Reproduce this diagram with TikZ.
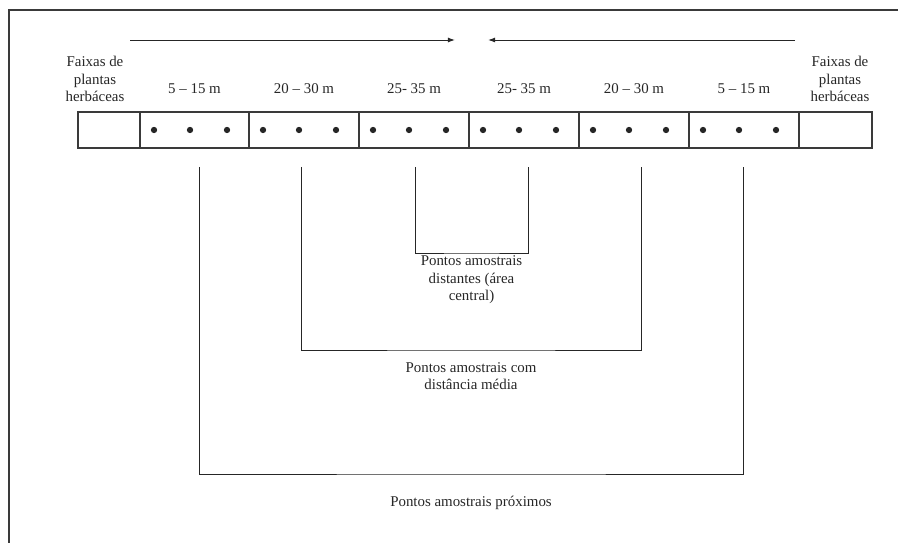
\documentclass[tikz,border=0pt]{standalone}
\usepackage{fontspec}
\setmainfont{Liberation Serif}
\usetikzlibrary{arrows.meta, positioning}
\definecolor{ink}{HTML}{262626}
\definecolor{frame}{HTML}{3A3A3A}

\begin{document}
\begin{tikzpicture}[x=0.025cm, y=-0.025cm, >={Latex[length=5pt, width=3.5pt]},
  cell/.style={draw=frame, line width=0.9pt, minimum height=0.9cm, inner sep=0pt, outer sep=0pt},
  pt/.style={fill=ink, circle, inner sep=0pt, minimum size=4.5pt},
  lbl/.style={font=\fontsize{10.6}{12.2}\selectfont, text=ink, align=center, inner sep=1pt},
  brk/.style={draw=ink, line width=0.7pt}]

\useasboundingbox (0,0) rectangle (898,543);

% Frame
\draw[frame, line width=1pt] (9,543) -- (9,10) -- (898,10);

% =========== Strip of cells ===========
\foreach \n/\l/\r in {0/78/140, 1/140/249, 2/249/359, 3/359/469, 4/469/579, 5/579/689, 6/689/799, 7/799/872}
  \node[cell, minimum width={(\r-\l)*0.025cm}] (c\n) at ({(\l+\r)/2},130) {};

% Sampling points
\foreach \n in {1,...,6}
  \foreach \d in {14,50,87}
    \node[pt] (d\n-\d) at ([xshift={\d*0.025cm}]c\n.west) {};

% Distance labels
\foreach \n/\t in {1/{5 – 15 m}, 2/{20 – 30 m}, 3/{25- 35 m}, 4/{25- 35 m}, 5/{20 – 30 m}, 6/{5 – 15 m}}
  \node[lbl, above=12.8pt of c\n, anchor=base] (r\n) {\t};

% Herbaceous strips
\node[lbl] (fl) at (95,79) {Faixas de\\plantas\\herbáceas};
\node[lbl] (fr) at (840,79) {Faixas de\\plantas\\herbáceas};

% Direction arrows
\coordinate (a1) at (130,40);
\coordinate (a2) at (455,40);
\coordinate (b1) at (795,40);
\coordinate (b2) at (488,40);
\draw[->, ink, line width=0.7pt] (a1) -- (a2);
\draw[->, ink, line width=0.7pt] (b1) -- (b2);

% =========== Brackets ===========
% distant
\coordinate (i1) at (415,167);
\coordinate (i2) at (528,167);
\coordinate (ib) at (471.5,253);
\draw[brk] (i1) |- (ib) -| (i2);
\node[lbl, below=1pt of ib] (il) {Pontos amostrais\\distantes (área\\central)};

% medium
\coordinate (m1) at (301,167);
\coordinate (m2) at (641,167);
\coordinate (mb) at (471,350);
\draw[brk] (m1) |- (mb) -| (m2);
\node[lbl, below=7.5pt of mb] (ml) {Pontos amostrais com\\distância média};

% near
\coordinate (o1) at (199,167);
\coordinate (o2) at (743,167);
\coordinate (ob) at (471,474);
\draw[brk] (o1) |- (ob) -| (o2);
\node[lbl, below=14.5pt of ob] (ol) {Pontos amostrais próximos};

\end{tikzpicture}
\end{document}
